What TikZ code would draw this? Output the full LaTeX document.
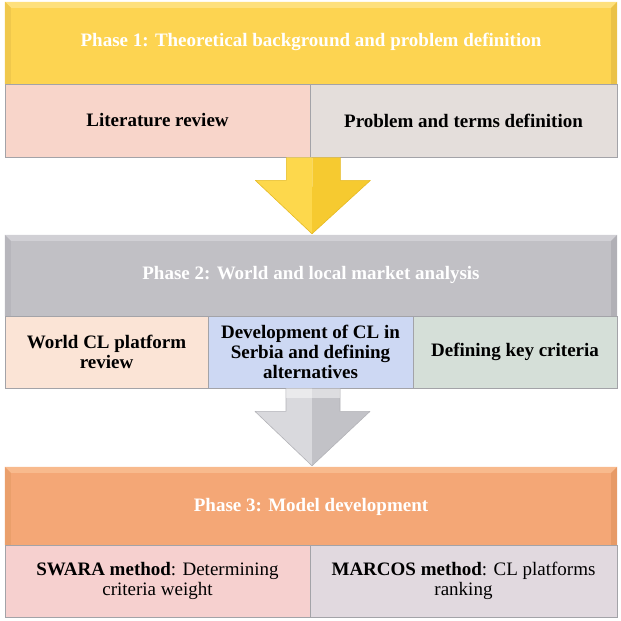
\documentclass[tikz,border=0pt]{standalone}
\usepackage{fontspec}
\setmainfont{Liberation Serif}
\usetikzlibrary{calc}

% phase header colours: face, top bevel, left bevel, right bevel
\definecolor{phAface}{HTML}{FDD451}
\definecolor{phAtop}{HTML}{FEE07C}
\definecolor{phAleft}{HTML}{F0C84C}
\definecolor{phAright}{HTML}{EBC247}
\definecolor{phBface}{HTML}{C1C0C5}
\definecolor{phBtop}{HTML}{D1D0D5}
\definecolor{phBleft}{HTML}{B7B6BC}
\definecolor{phBright}{HTML}{B1B0B6}
\definecolor{phCface}{HTML}{F4A776}
\definecolor{phCtop}{HTML}{F8BA8D}
\definecolor{phCleft}{HTML}{EA9F6B}
\definecolor{phCright}{HTML}{E79A66}
% step box fills
\definecolor{litfill}{HTML}{F8D5CA}
\definecolor{probfill}{HTML}{E4DEDB}
\definecolor{worldfill}{HTML}{FBE4D6}
\definecolor{serbfill}{HTML}{CDD8F3}
\definecolor{critfill}{HTML}{D5DFD8}
\definecolor{swarafill}{HTML}{F6D0CF}
\definecolor{marcosfill}{HTML}{E1D9DF}
\definecolor{boxline}{HTML}{A3A3A8}
% block arrow colours
\definecolor{yelL}{HTML}{FDD84C}
\definecolor{yelR}{HTML}{F6CA30}
\definecolor{yelEdge}{HTML}{E6BA24}
\definecolor{grayL}{HTML}{D9D9DD}
\definecolor{grayR}{HTML}{C2C2C7}
\definecolor{grayEdge}{HTML}{B3B3B8}

% bevelled edges of a phase header: node, top, left, right colour
\newcommand\headerbevel[4]{%
  \fill[#2] (#1.north west) -- (#1.north east) -- ($(#1.north east)+(-6,6)$) -- ($(#1.north west)+(6,6)$) -- cycle;
  \fill[#3] (#1.north west) -- ($(#1.north west)+(6,6)$) -- ($(#1.south west)+(6,0)$) -- (#1.south west) -- cycle;
  \fill[#4] (#1.north east) -- ($(#1.north east)+(-6,6)$) -- ($(#1.south east)+(-6,0)$) -- (#1.south east) -- cycle;
}

% block arrow going down from (#1) to tip (#2): left face, right face, edge colour
\newcommand\blockarrow[5]{%
  \fill[#3] (#1) ++(-26,0) -- ++(0,23) -- ++(-31,0) -- (#2) -- (#1) -- cycle;
  \fill[#4] (#1) ++(28,0) -- ++(0,23) -- ++(30,0) -- (#2) -- (#1) -- cycle;
  \draw[#5, line width=0.6pt, line join=round]
    (#1) ++(-26,0) -- ++(0,23) -- ++(-31,0) -- (#2) -- ($(#1)+(58,23)$) -- ++(-30,0) -- ++(0,-23);
}

\begin{document}
\begin{tikzpicture}[x=1pt, y=-1pt,
  header/.style={minimum width=612pt, inner sep=0pt, text=white,
    font=\fontsize{19}{20}\selectfont\bfseries},
  stepbox/.style={draw=boxline, line width=0.8pt, inner sep=0pt, align=center,
    font=\fontsize{19}{20}\selectfont\bfseries},
  plainbox/.style={draw=boxline, line width=0.8pt, inner sep=0pt, align=center,
    font=\fontsize{19}{20}\selectfont}]

\useasboundingbox (0,0) rectangle (621,621);

% ---------- Phase 1 ----------
\node[header, fill=phAface, minimum height=82pt] (ph1) at (311,43) {};
\headerbevel{ph1}{phAtop}{phAleft}{phAright}
\node[header] (ph1t) at (311,42) {Phase 1: Theoretical background and problem definition};
\node[stepbox, fill=litfill, minimum width=305pt, minimum height=73pt] (lit) at (157.5,120.5) {Literature review};
\node[stepbox, fill=probfill, minimum width=307pt, minimum height=73pt] (prob) at (463.5,120.5) {Problem and terms definition};

% ---------- Phase 2 ----------
\node[header, fill=phBface, minimum height=81pt] (ph2) at (311,275.5) {};
\headerbevel{ph2}{phBtop}{phBleft}{phBright}
\node[header] (ph2t) at (311,275) {Phase 2: World and local market analysis};
\node[stepbox, fill=worldfill, minimum width=203pt, minimum height=72pt] (world) at (106.5,352) {World CL platform\\review};
\node[stepbox, fill=serbfill, minimum width=205pt, minimum height=72pt] (serb) at (310.5,352) {Development of CL in\\Serbia and defining\\alternatives};
\node[stepbox, fill=critfill, minimum width=204pt, minimum height=72pt] (crit) at (515,352) {Defining key criteria};

% ---------- Phase 3 ----------
\node[header, fill=phCface, minimum height=78pt] (ph3) at (311,506) {};
\headerbevel{ph3}{phCtop}{phCleft}{phCright}
\node[header] (ph3t) at (311,507) {Phase 3: Model development};
\node[plainbox, fill=swarafill, minimum width=305pt, minimum height=72pt] (swara) at (157.5,581) {\textbf{SWARA method}: Determining\\criteria weight};
\node[plainbox, fill=marcosfill, minimum width=307pt, minimum height=72pt] (marcos) at (463.5,581) {\textbf{MARCOS method}: CL platforms\\ranking};

% ---------- block arrows between the phases ----------
\coordinate (a1top) at ($(lit.south east)+(2,0)$);
\coordinate (a1tip) at ($(ph2.north)+(1,-1)$);
\blockarrow{a1top}{a1tip}{yelL}{yelR}{yelEdge}

\coordinate (a2top) at ($(serb.south)+(1.5,0)$);
\coordinate (a2tip) at ($(ph3.north)+(1,-1)$);
\blockarrow{a2top}{a2tip}{grayL}{grayR}{grayEdge}
\fill[white, opacity=0.45, draw=none]
  ($(a2top)+(-26,0.5)$) rectangle ($(a2top)+(28,10)$);
\end{tikzpicture}
\end{document}
